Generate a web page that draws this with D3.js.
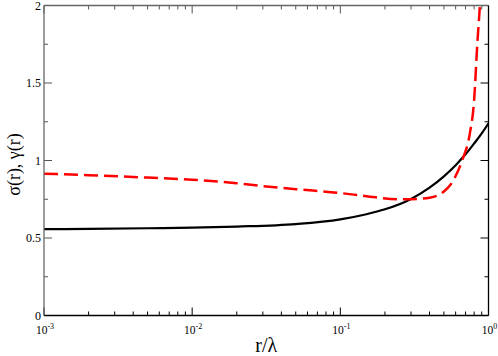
<!DOCTYPE html>
<html>
<head>
<meta charset="utf-8">
<script src="https://cdn.jsdelivr.net/npm/d3@7"></script>
<style>
  body { margin: 0; background: #fff; }
  text { font-family: "Liberation Serif", "DejaVu Serif", serif; }
</style>
</head>
<body>
<div id="chart"></div>
<script>
// values
var sigmaR = [0.001, 0.002, 0.005, 0.01, 0.02, 0.05, 0.1, 0.15, 0.2, 0.3, 0.4, 0.5, 0.6, 0.7, 0.8, 0.9, 1.0];
var sigmaV = [0.557, 0.559, 0.563, 0.567, 0.574, 0.59, 0.62, 0.653, 0.685, 0.752, 0.825, 0.898, 0.97, 1.04, 1.11, 1.175, 1.24];

var gammaR = [0.001, 0.002, 0.005, 0.01, 0.02, 0.03, 0.05, 0.1, 0.15, 0.25, 0.3, 0.4, 0.5, 0.55, 0.6, 0.67, 0.75, 0.8, 0.84, 0.875, 0.9];
var gammaV = [0.915, 0.905, 0.89, 0.876, 0.853, 0.835, 0.815, 0.79, 0.77, 0.75, 0.75, 0.76, 0.80, 0.84, 0.90, 1.01, 1.18, 1.39, 1.75, 2.0, 2.2];

var xMajor = [0.001, 0.01, 0.1, 1];
var xLabels = ["-3", "-2", "-1", "0"];
var yMajor = [0, 0.5, 1, 1.5, 2];
var yLabels = ["0", "0.5", "1", "1.5", "2"];
var yMinor = [0.25, 0.75, 1.25, 1.75];

var width = 498, height = 356;
// (window.top is read-only, so the plot edges get their own names)
var pLeft = 44, pRight = 488.5, pTop = 5.5, pBottom = 315.5;

var svg = d3.select("#chart").append("svg")
    .attr("width", width)
    .attr("height", height);

var x = d3.scaleLog().domain([0.001, 1]).range([pLeft, pRight]);
var y = d3.scaleLinear().domain([0, 2]).range([pBottom, pTop]);

// minor ticks for log axis: 2..9 of each decade
var xMinor = [];
[0.001, 0.01, 0.1].forEach(function(d){
    for (var k = 2; k <= 9; k++) xMinor.push(d * k);
});

svg.append("clipPath").attr("id", "clip")
  .append("rect")
    .attr("x", pLeft).attr("y", pTop)
    .attr("width", pRight - pLeft).attr("height", pBottom - pTop);

var line = d3.line()
    .x(function(d){ return x(d[0]); })
    .y(function(d){ return y(d[1]); })
    .curve(d3.curveMonotoneX);

var sigma = d3.zip(sigmaR, sigmaV);
var gamma = d3.zip(gammaR, gammaV);

var plot = svg.append("g").attr("clip-path", "url(#clip)");

plot.append("path")
    .datum(sigma)
    .attr("d", line)
    .attr("fill", "none")
    .attr("stroke", "#000")
    .attr("stroke-width", 2.2);

plot.append("path")
    .datum(gamma)
    .attr("d", line)
    .attr("fill", "none")
    .attr("stroke", "#ff0000")
    .attr("stroke-width", 2.5)
    .attr("stroke-dasharray", "14,6");

// frame and inward ticks
var axes = svg.append("g");

function tickLines(data, len, side){
    var horiz = (side == "bottom" || side == "top");
    axes.selectAll(null)
        .data(data)
        .enter().append("line")
        .attr("x1", function(d){
            if (horiz) return x(d);
            return side == "left" ? pLeft : pRight;
        })
        .attr("x2", function(d){
            if (horiz) return x(d);
            return side == "left" ? pLeft + len : pRight - len;
        })
        .attr("y1", function(d){
            if (!horiz) return y(d);
            return side == "bottom" ? pBottom : pTop;
        })
        .attr("y2", function(d){
            if (!horiz) return y(d);
            return side == "bottom" ? pBottom - len : pTop + len;
        })
        .attr("stroke", (side == "left" || side == "top") ? "#555" : "#000")
        .attr("stroke-width", 1);
}

tickLines(xMajor, 8, "bottom");
tickLines(xMinor, 4, "bottom");
tickLines(xMajor, 8, "top");
tickLines(xMinor, 4, "top");
tickLines(yMajor, 8, "left");
tickLines(yMinor, 4, "left");
tickLines(yMajor, 8, "right");
tickLines(yMinor, 4, "right");

axes.append("line").attr("x1", pLeft).attr("x2", pRight).attr("y1", pBottom).attr("y2", pBottom)
    .attr("stroke", "#000").attr("stroke-width", 1.3);
axes.append("line").attr("x1", pRight).attr("x2", pRight).attr("y1", pTop).attr("y2", pBottom)
    .attr("stroke", "#000").attr("stroke-width", 1.3);
axes.append("line").attr("x1", pLeft).attr("x2", pRight).attr("y1", pTop).attr("y2", pTop)
    .attr("stroke", "#666").attr("stroke-width", 1.3);
axes.append("line").attr("x1", pLeft).attr("x2", pLeft).attr("y1", pTop).attr("y2", pBottom)
    .attr("stroke", "#666").attr("stroke-width", 1.3);

// y tick labels
svg.selectAll(".ylab")
    .data(yMajor)
    .enter().append("text")
    .attr("class", "ylab")
    .attr("x", pLeft - 3)
    .attr("y", function(d){ return y(d) + 4; })
    .attr("text-anchor", "end")
    .attr("font-size", 12)
    .text(function(d, i){ return yLabels[i]; });

// x tick labels, 10 with exponent
var xl = svg.selectAll(".xlab")
    .data(xMajor)
    .enter().append("text")
    .attr("class", "xlab")
    .attr("x", function(d){ return x(d) + 1; })
    .attr("y", pBottom + 18)
    .attr("text-anchor", "middle")
    .attr("font-size", 11.5);
xl.append("tspan").text("10");
xl.append("tspan")
    .attr("dy", -5)
    .attr("font-size", 8)
    .text(function(d, i){ return xLabels[i]; });

// axis titles
svg.append("text")
    .attr("x", (pLeft + pRight) / 2)
    .attr("y", 352)
    .attr("text-anchor", "middle")
    .attr("font-size", 20)
    .text("r/λ");

svg.append("text")
    .attr("transform", "translate(20," + ((pTop + pBottom) / 2 + 4) + ") rotate(-90)")
    .attr("text-anchor", "middle")
    .attr("font-size", 18)
    .text("σ(r), γ(r)");
</script>
</body>
</html>
